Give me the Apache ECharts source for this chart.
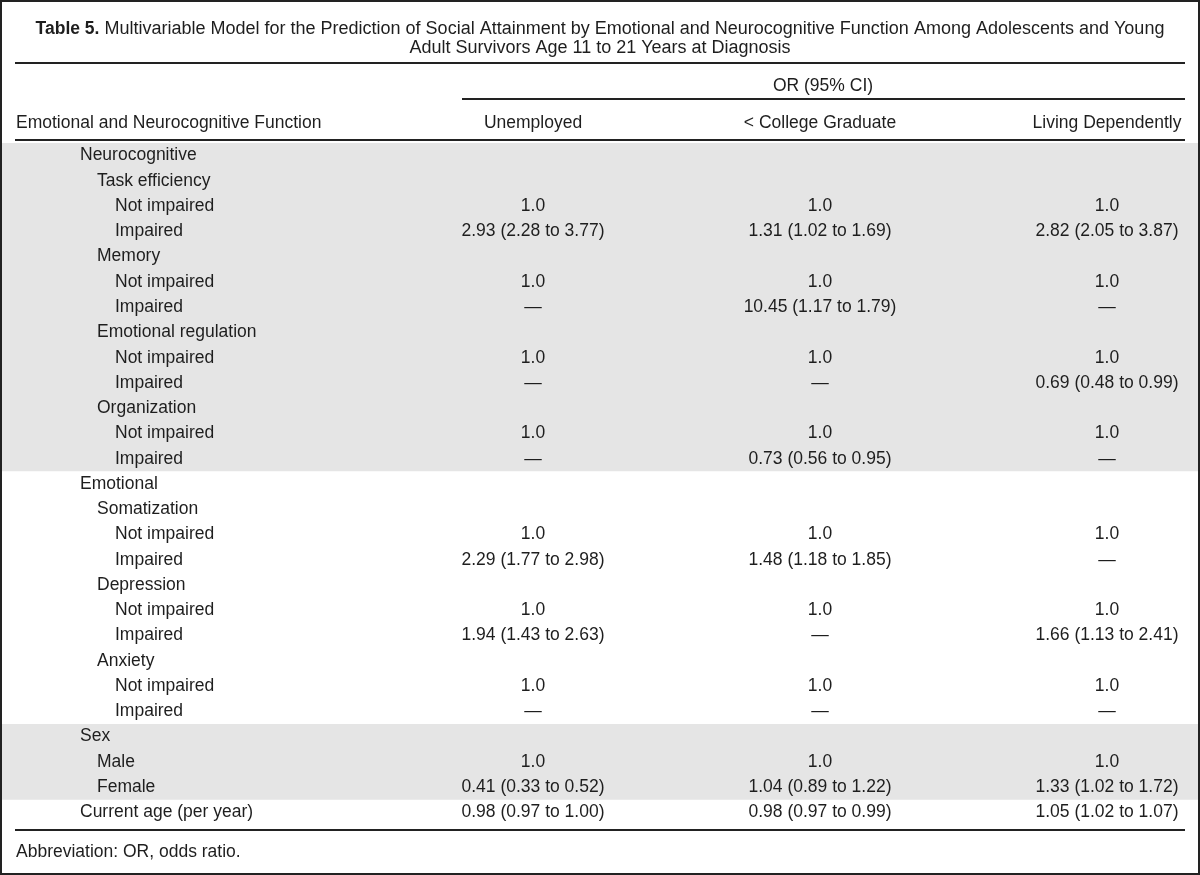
<!DOCTYPE html>
<html>
<head>
<meta charset="utf-8">
<script src="https://cdn.jsdelivr.net/npm/echarts@6/dist/echarts.min.js"></script>
<style>
  html, body { margin: 0; padding: 0; background: #ffffff; }
  #chart { width: 1200px; height: 875px; }
</style>
</head>
<body>
<div id="chart"></div>
<script>
// ---------------- data ----------------
const titleBold = 'Table 5.';
const titleLine1 = ' Multivariable Model for the Prediction of Social Attainment by Emotional and Neurocognitive Function Among Adolescents and Young';
const titleLine2 = 'Adult Survivors Age 11 to 21 Years at Diagnosis';
const stubHeader = 'Emotional and Neurocognitive Function';
const spannerHeader = 'OR (95% CI)';
const footnote = 'Abbreviation: OR, odds ratio.';

const columns = ['Unemployed', '< College Graduate', 'Living Dependently'];

const rowLabels = [
  'Neurocognitive', 'Task efficiency', 'Not impaired', 'Impaired',
  'Memory', 'Not impaired', 'Impaired',
  'Emotional regulation', 'Not impaired', 'Impaired',
  'Organization', 'Not impaired', 'Impaired',
  'Emotional', 'Somatization', 'Not impaired', 'Impaired',
  'Depression', 'Not impaired', 'Impaired',
  'Anxiety', 'Not impaired', 'Impaired',
  'Sex', 'Male', 'Female',
  'Current age (per year)'
];
const rowLevels = [0,1,2,2, 1,2,2, 1,2,2, 1,2,2, 0,1,2,2, 1,2,2, 1,2,2, 0,1,1, 0];

const unemployed = [
  '', '', '1.0', '2.93 (2.28 to 3.77)',
  '', '1.0', '—',
  '', '1.0', '—',
  '', '1.0', '—',
  '', '', '1.0', '2.29 (1.77 to 2.98)',
  '', '1.0', '1.94 (1.43 to 2.63)',
  '', '1.0', '—',
  '', '1.0', '0.41 (0.33 to 0.52)',
  '0.98 (0.97 to 1.00)'
];
const college = [
  '', '', '1.0', '1.31 (1.02 to 1.69)',
  '', '1.0', '10.45 (1.17 to 1.79)',
  '', '1.0', '—',
  '', '1.0', '0.73 (0.56 to 0.95)',
  '', '', '1.0', '1.48 (1.18 to 1.85)',
  '', '1.0', '—',
  '', '1.0', '—',
  '', '1.0', '1.04 (0.89 to 1.22)',
  '0.98 (0.97 to 0.99)'
];
const living = [
  '', '', '1.0', '2.82 (2.05 to 3.87)',
  '', '1.0', '—',
  '', '1.0', '0.69 (0.48 to 0.99)',
  '', '1.0', '—',
  '', '', '1.0', '—',
  '', '1.0', '1.66 (1.13 to 2.41)',
  '', '1.0', '—',
  '', '1.0', '1.33 (1.02 to 1.72)',
  '1.05 (1.02 to 1.07)'
];

// shaded row groups [firstRow, lastRow]
const shadedGroups = [[0, 12], [23, 25]];

// ---------------- build ----------------
const FONT = '"Liberation Sans", Arial, Helvetica, sans-serif';
const TXT = '#1e1e1e';
const FS = 17.5;

const colValues = [unemployed, college, living];
const cellData = [];
const cellText = [];
colValues.forEach((arr, c) => {
  arr.forEach((t, r) => {
    if (t !== '') { cellData.push([c, r]); cellText.push(t); }
  });
});

const chart = echarts.init(document.getElementById('chart'), null, { renderer: 'canvas' });

const W = 1200, H = 875;

const option = {
  backgroundColor: '#ffffff',
  animation: false,
  grid: { left: 533, right: 93, top: 143, bottom: 50 },
  xAxis: {
    type: 'category',
    position: 'top',
    z: 10,
    data: columns,
    boundaryGap: false,
    axisLine: { show: false },
    axisTick: { show: false },
    splitLine: { show: false },
    axisLabel: {
      margin: 20,
      verticalAlign: 'middle',
      color: TXT,
      fontSize: FS,
      fontFamily: FONT,
      interval: 0
    }
  },
  yAxis: {
    type: 'category',
    inverse: true,
    z: 10,
    data: rowLabels,
    axisLine: { show: false },
    axisTick: { show: false },
    splitLine: { show: false },
    axisLabel: {
      align: 'left',
      margin: 453,
      interval: 0,
      color: TXT,
      fontSize: FS,
      fontFamily: FONT,
      formatter: function (v, i) { return '{l' + rowLevels[i] + '|' + v + '}'; },
      rich: {
        l0: { color: TXT, fontSize: FS, fontFamily: FONT, padding: [0, 0, 0, 0] },
        l1: { color: TXT, fontSize: FS, fontFamily: FONT, padding: [0, 0, 0, 17] },
        l2: { color: TXT, fontSize: FS, fontFamily: FONT, padding: [0, 0, 0, 35] }
      }
    }
  },
  series: [
    {
      type: 'custom',
      name: 'shading',
      z: 0,
      silent: true,
      data: shadedGroups,
      encode: { y: [0, 1] },
      renderItem: function (params, api) {
        const a = api.coord([0, api.value(0)]);
        const b = api.coord([0, api.value(1)]);
        const band = api.size([0, 1])[1];
        const y0 = a[1] - band / 2;
        const y1 = b[1] + band / 2;
        return {
          type: 'rect',
          shape: { x: 2, y: y0, width: W - 4, height: y1 - y0 },
          style: { fill: '#e5e5e5' }
        };
      }
    },
    {
      type: 'custom',
      name: 'cells',
      z: 5,
      silent: true,
      data: cellData,
      encode: { x: 0, y: 1 },
      renderItem: function (params, api) {
        const p = api.coord([api.value(0), api.value(1)]);
        return {
          type: 'text',
          x: p[0],
          y: p[1],
          style: {
            text: cellText[params.dataIndex],
            fill: TXT,
            fontSize: FS,
            fontFamily: FONT,
            align: 'center',
            verticalAlign: 'middle'
          }
        };
      }
    }
  ],
  graphic: [
    {
      type: 'rect', z: 100, silent: true,
      shape: { x: 1, y: 1, width: W - 2, height: H - 2 },
      style: { fill: 'none', stroke: '#222', lineWidth: 2 }
    },
    {
      type: 'text', z: 100, x: 600, y: 39,
      style: {
        text: '{b|' + titleBold + '}{n|' + titleLine1 + '}\n{n|' + titleLine2 + '}',
        align: 'center', verticalAlign: 'middle',
        fill: TXT,
        rich: {
          b: { fontSize: 17.5, fontWeight: 'bold', fontFamily: '"Liberation Sans Narrow", "Arial Narrow", ' + FONT, fill: TXT, lineHeight: 19 },
          n: { fontSize: 18, fontFamily: FONT, fill: TXT, lineHeight: 19 }
        }
      }
    },
    { type: 'line', z: 100, shape: { x1: 15, y1: 63, x2: 1185, y2: 63 }, style: { stroke: '#222', lineWidth: 2 } },
    {
      type: 'text', z: 100, x: 823, y: 86,
      style: { text: spannerHeader, align: 'center', verticalAlign: 'middle', fill: TXT, fontSize: FS, fontFamily: FONT }
    },
    { type: 'line', z: 100, shape: { x1: 462, y1: 99, x2: 1185, y2: 99 }, style: { stroke: '#222', lineWidth: 2 } },
    {
      type: 'text', z: 100, x: 16, y: 123,
      style: { text: stubHeader, align: 'left', verticalAlign: 'middle', fill: TXT, fontSize: FS, fontFamily: FONT }
    },
    { type: 'line', z: 100, shape: { x1: 15, y1: 140, x2: 1185, y2: 140 }, style: { stroke: '#222', lineWidth: 2 } },
    { type: 'line', z: 100, shape: { x1: 15, y1: 830, x2: 1185, y2: 830 }, style: { stroke: '#222', lineWidth: 2 } },
    {
      type: 'text', z: 100, x: 16, y: 852,
      style: { text: footnote, align: 'left', verticalAlign: 'middle', fill: TXT, fontSize: FS, fontFamily: FONT }
    }
  ]
};

chart.setOption(option);
</script>
</body>
</html>
